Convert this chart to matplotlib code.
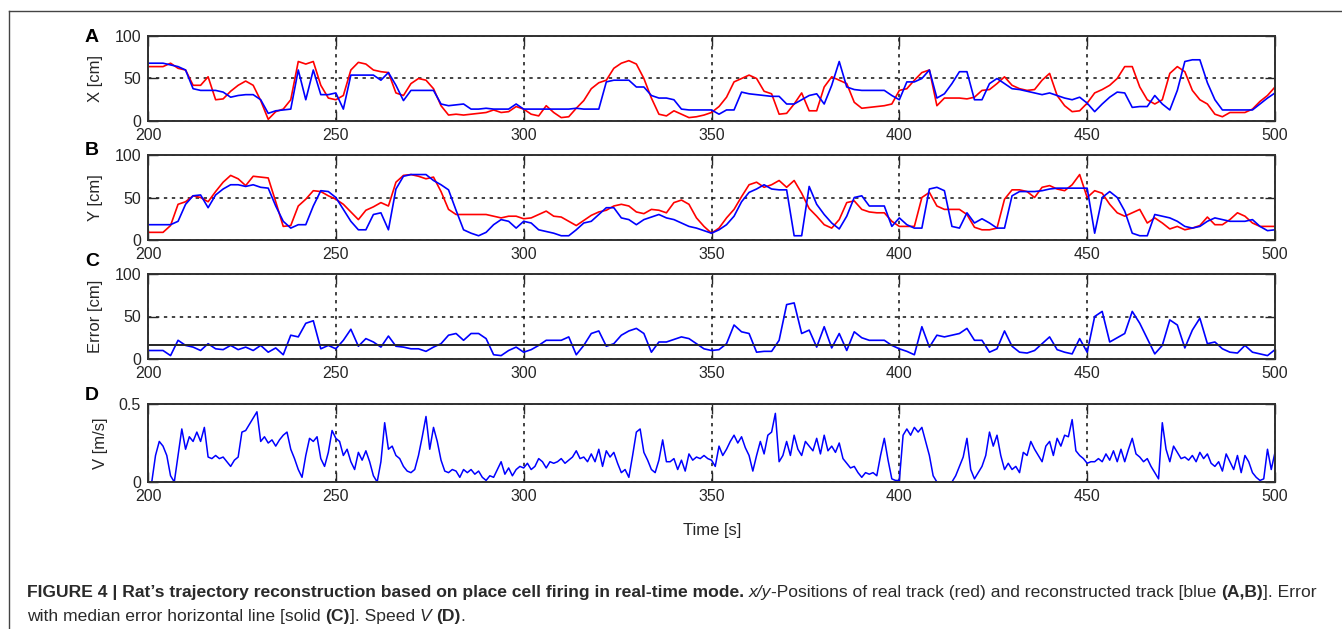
import numpy as np
import matplotlib
matplotlib.use('Agg')
import matplotlib.pyplot as plt
from matplotlib.lines import Line2D
from matplotlib.transforms import IdentityTransform

plt.rcParams['font.family'] = ['Liberation Sans', 'DejaVu Sans']

# sample times [s]
t2 = np.arange(200, 501, 2)
t1 = np.arange(200, 501, 1)

# X position [cm]: real (red) and reconstructed (blue)
red_x = [64, 64, 64, 68, 62, 60, 42, 42, 52, 25,
         26, 35, 42, 47, 42, 24, 2, 11, 14, 25,
         70, 67, 70, 42, 27, 25, 30, 60, 69, 67,
         60, 58, 57, 33, 30, 44, 50, 48, 38, 18,
         7, 8, 7, 8, 9, 10, 13, 10, 11, 17,
         14, 8, 6, 18, 10, 4, 5, 15, 24, 38,
         45, 48, 62, 68, 71, 67, 50, 27, 8, 6,
         12, 8, 4, 5, 7, 10, 17, 28, 46, 50,
         54, 50, 35, 32, 8, 9, 20, 33, 12, 12,
         40, 52, 48, 44, 22, 15, 16, 17, 18, 20,
         36, 38, 48, 57, 60, 18, 27, 27, 27, 26,
         28, 36, 37, 44, 52, 42, 38, 36, 37, 48,
         56, 30, 18, 11, 12, 21, 33, 37, 42, 50,
         64, 64, 40, 25, 20, 25, 56, 64, 58, 36,
         25, 20, 8, 5, 10, 10, 10, 14, 23, 30,
         40]
blue_x = [68, 68, 68, 66, 64, 60, 38, 36, 36, 36,
          34, 28, 30, 31, 31, 25, 9, 12, 13, 14,
          60, 25, 60, 31, 31, 33, 14, 54, 54, 54,
          54, 48, 57, 42, 24, 36, 36, 36, 36, 20,
          18, 19, 20, 14, 14, 15, 14, 14, 14, 20,
          14, 14, 14, 14, 14, 14, 14, 15, 14, 14,
          14, 46, 48, 48, 48, 40, 40, 30, 27, 27,
          25, 14, 13, 13, 13, 13, 8, 13, 13, 34,
          32, 31, 30, 29, 29, 20, 20, 25, 30, 32,
          20, 42, 70, 40, 37, 36, 36, 36, 36, 30,
          25, 46, 46, 50, 60, 27, 32, 44, 58, 58,
          25, 25, 44, 50, 44, 38, 37, 35, 33, 31,
          33, 30, 27, 25, 28, 21, 11, 20, 28, 34,
          33, 16, 17, 17, 30, 20, 13, 36, 70, 72,
          72, 45, 25, 13, 13, 13, 13, 13, 20, 27,
          33]

# Y position [cm]
red_y = [9, 9, 9, 17, 42, 45, 52, 50, 45, 57,
         68, 76, 72, 64, 75, 74, 73, 45, 16, 17,
         40, 48, 58, 57, 52, 48, 42, 33, 24, 35,
         39, 44, 40, 68, 76, 77, 75, 72, 74, 57,
         36, 30, 30, 30, 30, 30, 28, 26, 28, 28,
         25, 26, 30, 34, 28, 27, 22, 17, 23, 29,
         33, 35, 40, 42, 40, 33, 31, 36, 35, 32,
         44, 47, 42, 26, 16, 8, 14, 26, 36, 51,
         65, 68, 62, 65, 70, 62, 70, 55, 37, 28,
         18, 14, 24, 44, 46, 36, 33, 32, 32, 22,
         16, 16, 16, 50, 56, 40, 36, 36, 36, 30,
         15, 12, 12, 14, 48, 59, 59, 57, 50, 62,
         64, 60, 58, 65, 77, 50, 58, 55, 42, 32,
         28, 32, 36, 20, 26, 20, 13, 16, 12, 14,
         17, 27, 18, 18, 24, 32, 28, 20, 16, 16,
         16]
blue_y = [18, 18, 18, 18, 22, 42, 52, 53, 38, 53,
          60, 65, 65, 63, 65, 62, 61, 40, 22, 14,
          18, 18, 40, 58, 57, 50, 36, 22, 12, 12,
          30, 32, 12, 60, 75, 77, 77, 77, 70, 65,
          59, 35, 12, 8, 5, 9, 18, 24, 22, 14,
          22, 20, 12, 10, 8, 5, 5, 12, 20, 22,
          30, 38, 38, 26, 24, 18, 24, 27, 30, 26,
          24, 20, 16, 14, 11, 8, 12, 18, 28, 45,
          56, 60, 65, 60, 59, 59, 5, 5, 63, 42,
          30, 20, 13, 28, 50, 52, 40, 40, 40, 16,
          26, 18, 14, 14, 60, 62, 58, 16, 14, 32,
          20, 25, 20, 14, 14, 52, 57, 57, 57, 58,
          60, 61, 61, 61, 61, 61, 8, 50, 57, 50,
          34, 8, 5, 5, 30, 28, 26, 22, 16, 14,
          16, 22, 26, 24, 22, 22, 22, 24, 16, 11,
          12]

# reconstruction error [cm] and its median
err = [10, 10, 10, 4, 22, 16, 14, 10, 18, 12,
       11, 16, 11, 14, 10, 16, 8, 13, 5, 28,
       26, 42, 45, 12, 16, 12, 22, 35, 15, 24,
       20, 14, 27, 15, 14, 12, 12, 9, 14, 18,
       28, 30, 22, 30, 30, 24, 5, 4, 10, 14,
       8, 11, 16, 22, 22, 22, 26, 5, 16, 30,
       33, 15, 18, 28, 33, 36, 30, 8, 20, 20,
       23, 26, 24, 18, 12, 10, 11, 18, 40, 32,
       30, 8, 9, 9, 22, 64, 66, 30, 34, 14,
       38, 13, 30, 10, 32, 25, 22, 22, 22, 16,
       12, 9, 5, 38, 14, 28, 26, 28, 30, 36,
       22, 22, 8, 12, 33, 15, 8, 7, 10, 18,
       26, 11, 8, 6, 24, 8, 50, 56, 20, 25,
       30, 56, 42, 24, 6, 16, 46, 40, 13, 34,
       48, 18, 20, 12, 8, 7, 16, 8, 6, 4,
       11]
err_median = 16

# running speed [m/s], 1 s samples
speed = [0.00, 0.00, 0.17, 0.26, 0.23, 0.17, 0.04, 0.00, 0.17, 0.34,
         0.21, 0.29, 0.26, 0.32, 0.26, 0.35, 0.16, 0.15, 0.17, 0.15,
         0.16, 0.13, 0.10, 0.14, 0.16, 0.32, 0.33, 0.37, 0.41, 0.45,
         0.26, 0.29, 0.25, 0.27, 0.23, 0.27, 0.30, 0.32, 0.21, 0.15,
         0.08, 0.03, 0.17, 0.28, 0.26, 0.29, 0.15, 0.10, 0.19, 0.33,
         0.28, 0.26, 0.17, 0.21, 0.13, 0.08, 0.19, 0.14, 0.20, 0.13,
         0.04, 0.00, 0.13, 0.38, 0.21, 0.23, 0.17, 0.15, 0.10, 0.07,
         0.06, 0.08, 0.17, 0.29, 0.42, 0.21, 0.35, 0.26, 0.14, 0.07,
         0.06, 0.08, 0.07, 0.03, 0.08, 0.06, 0.08, 0.05, 0.07, 0.03,
         0.01, 0.04, 0.03, 0.08, 0.13, 0.05, 0.09, 0.04, 0.08, 0.10,
         0.09, 0.12, 0.08, 0.10, 0.15, 0.13, 0.09, 0.13, 0.12, 0.13,
         0.15, 0.12, 0.14, 0.16, 0.20, 0.15, 0.16, 0.13, 0.18, 0.13,
         0.21, 0.10, 0.20, 0.16, 0.19, 0.12, 0.06, 0.08, 0.03, 0.17,
         0.32, 0.34, 0.19, 0.14, 0.08, 0.06, 0.14, 0.27, 0.13, 0.13,
         0.15, 0.08, 0.14, 0.07, 0.18, 0.14, 0.16, 0.15, 0.17, 0.15,
         0.14, 0.10, 0.23, 0.17, 0.21, 0.26, 0.30, 0.25, 0.29, 0.22,
         0.17, 0.07, 0.17, 0.26, 0.18, 0.30, 0.32, 0.44, 0.13, 0.17,
         0.26, 0.17, 0.30, 0.21, 0.17, 0.26, 0.23, 0.20, 0.28, 0.18,
         0.30, 0.20, 0.23, 0.19, 0.25, 0.15, 0.12, 0.09, 0.10, 0.06,
         0.03, 0.06, 0.05, 0.06, 0.04, 0.17, 0.28, 0.14, 0.02, 0.01,
         0.01, 0.30, 0.34, 0.30, 0.35, 0.32, 0.35, 0.26, 0.17, 0.04,
         0.00, 0.00, 0.00, 0.00, 0.00, 0.04, 0.10, 0.16, 0.28, 0.08,
         0.02, 0.06, 0.10, 0.17, 0.32, 0.23, 0.30, 0.17, 0.08, 0.12,
         0.08, 0.10, 0.06, 0.19, 0.17, 0.26, 0.21, 0.17, 0.13, 0.23,
         0.26, 0.17, 0.28, 0.23, 0.30, 0.29, 0.40, 0.20, 0.17, 0.15,
         0.12, 0.13, 0.13, 0.15, 0.13, 0.18, 0.14, 0.20, 0.13, 0.21,
         0.13, 0.21, 0.28, 0.18, 0.16, 0.13, 0.15, 0.10, 0.06, 0.02,
         0.38, 0.21, 0.13, 0.23, 0.19, 0.15, 0.16, 0.14, 0.17, 0.13,
         0.19, 0.15, 0.18, 0.12, 0.10, 0.13, 0.07, 0.18, 0.13, 0.08,
         0.17, 0.06, 0.17, 0.13, 0.06, 0.03, 0.01, 0.02, 0.21, 0.08,
         0.19]

for s in (red_x, blue_x, red_y, blue_y, err):
    assert len(s) == len(t2), len(s)
assert len(speed) == len(t1), len(speed)

W, H = 1342, 629
fig = plt.figure(figsize=(W / 100, H / 100), dpi=100)
txt = '#262626'

# outer frame (only left and top edges are visible)
fx = 9 / W
fy = 1 - 11 / H
fig.add_artist(Line2D([fx, fx], [0, fy], transform=fig.transFigure, color='#444444', lw=1))
fig.add_artist(Line2D([fx, 1], [fy, fy], transform=fig.transFigure, color='#444444', lw=1))

L, R = 148, 1275
panels = [(36, 121), (155, 240), (274, 359), (404, 482)]
axes = []
for top, bot in panels:
    ax = fig.add_axes([L / W, 1 - bot / H, (R - L) / W, (bot - top) / H])
    axes.append(ax)

axA, axB, axC, axD = axes
axA.plot(t2, red_x, color='#ff0000', lw=1.2)
axA.plot(t2, blue_x, color='#0000ff', lw=1.2)
axB.plot(t2, red_y, color='#ff0000', lw=1.2)
axB.plot(t2, blue_y, color='#0000ff', lw=1.2)
axC.plot(t2, err, color='#0000ff', lw=1.2)
axC.axhline(err_median, color='#262626', lw=1.4)
axD.plot(t1, speed, color='#0000ff', lw=1.1)

ylabels = ['X [cm]', 'Y [cm]', 'Error [cm]', 'V [m/s]']
letters = ['A', 'B', 'C', 'D']
letter_y = [37, 150, 262, 395]
for i, ax in enumerate(axes):
    ax.set_xlim(200, 500)
    ax.set_xticks([200, 250, 300, 350, 400, 450, 500])
    if i < 3:
        ax.set_ylim(0, 100)
        ax.set_yticks([0, 50, 100])
    else:
        ax.set_ylim(0, 0.5)
        ax.set_yticks([0, 0.5])
        ax.set_yticklabels(['0', '0.5'])
    ax.grid(True, color='#111111', linestyle=(0, (2.2, 3.0)), lw=1.1)
    ax.tick_params(direction='in', top=True, right=True, length=7, width=1,
                   labelsize=11.5, colors=txt, pad=5)
    for sp in ax.spines.values():
        sp.set_color('#303030')
        sp.set_linewidth(1.4)
    ax.set_ylabel(ylabels[i], fontsize=12, color=txt)
    ax.yaxis.set_label_coords(-0.040 if i < 3 else -0.0355, 0.5)
    fig.text(92 / W, 1 - letter_y[i] / H, letters[i], fontsize=14, fontweight='bold',
             ha='center', va='center', color='black')

fig.text(712 / W, 1 - 531 / H, 'Time [s]', fontsize=12, ha='center', va='center', color=txt)

# caption, written run by run to mix bold and italic
renderer = fig.canvas.get_renderer()
cap_size = 12.6


def text_width(s, **kw):
    t = fig.text(0, 0, s, fontsize=cap_size, transform=IdentityTransform(), **kw)
    w = t.get_window_extent(renderer).width
    t.remove()
    return w


space_w = text_width('a a') - text_width('aa')


def put_runs(x, y, runs):
    for s, weight, style, gap in runs:
        t = fig.text(x, y, s, fontsize=cap_size, fontweight=weight, fontstyle=style,
                     color='#2a2a2a', transform=IdentityTransform(), ha='left', va='baseline')
        x = t.get_window_extent(renderer).x1 + (space_w if gap else 0)


line1 = [
    ('FIGURE 4 | Rat\u2019s trajectory reconstruction based on place cell firing in real-time mode.',
     'bold', 'normal', True),
    ('x/y', 'normal', 'italic', False),
    ('-Positions of real track (red) and reconstructed track [blue', 'normal', 'normal', True),
    ('(A,B)', 'bold', 'normal', False),
    (']. Error', 'normal', 'normal', False),
]
line2 = [
    ('with median error horizontal line [solid', 'normal', 'normal', True),
    ('(C)', 'bold', 'normal', False),
    (']. Speed', 'normal', 'normal', True),
    ('V', 'normal', 'italic', True),
    ('(D)', 'bold', 'normal', False),
    ('.', 'normal', 'normal', False),
]
put_runs(27, H - 597, line1)
put_runs(27, H - 621, line2)

fig.savefig('out.png', dpi=100)
